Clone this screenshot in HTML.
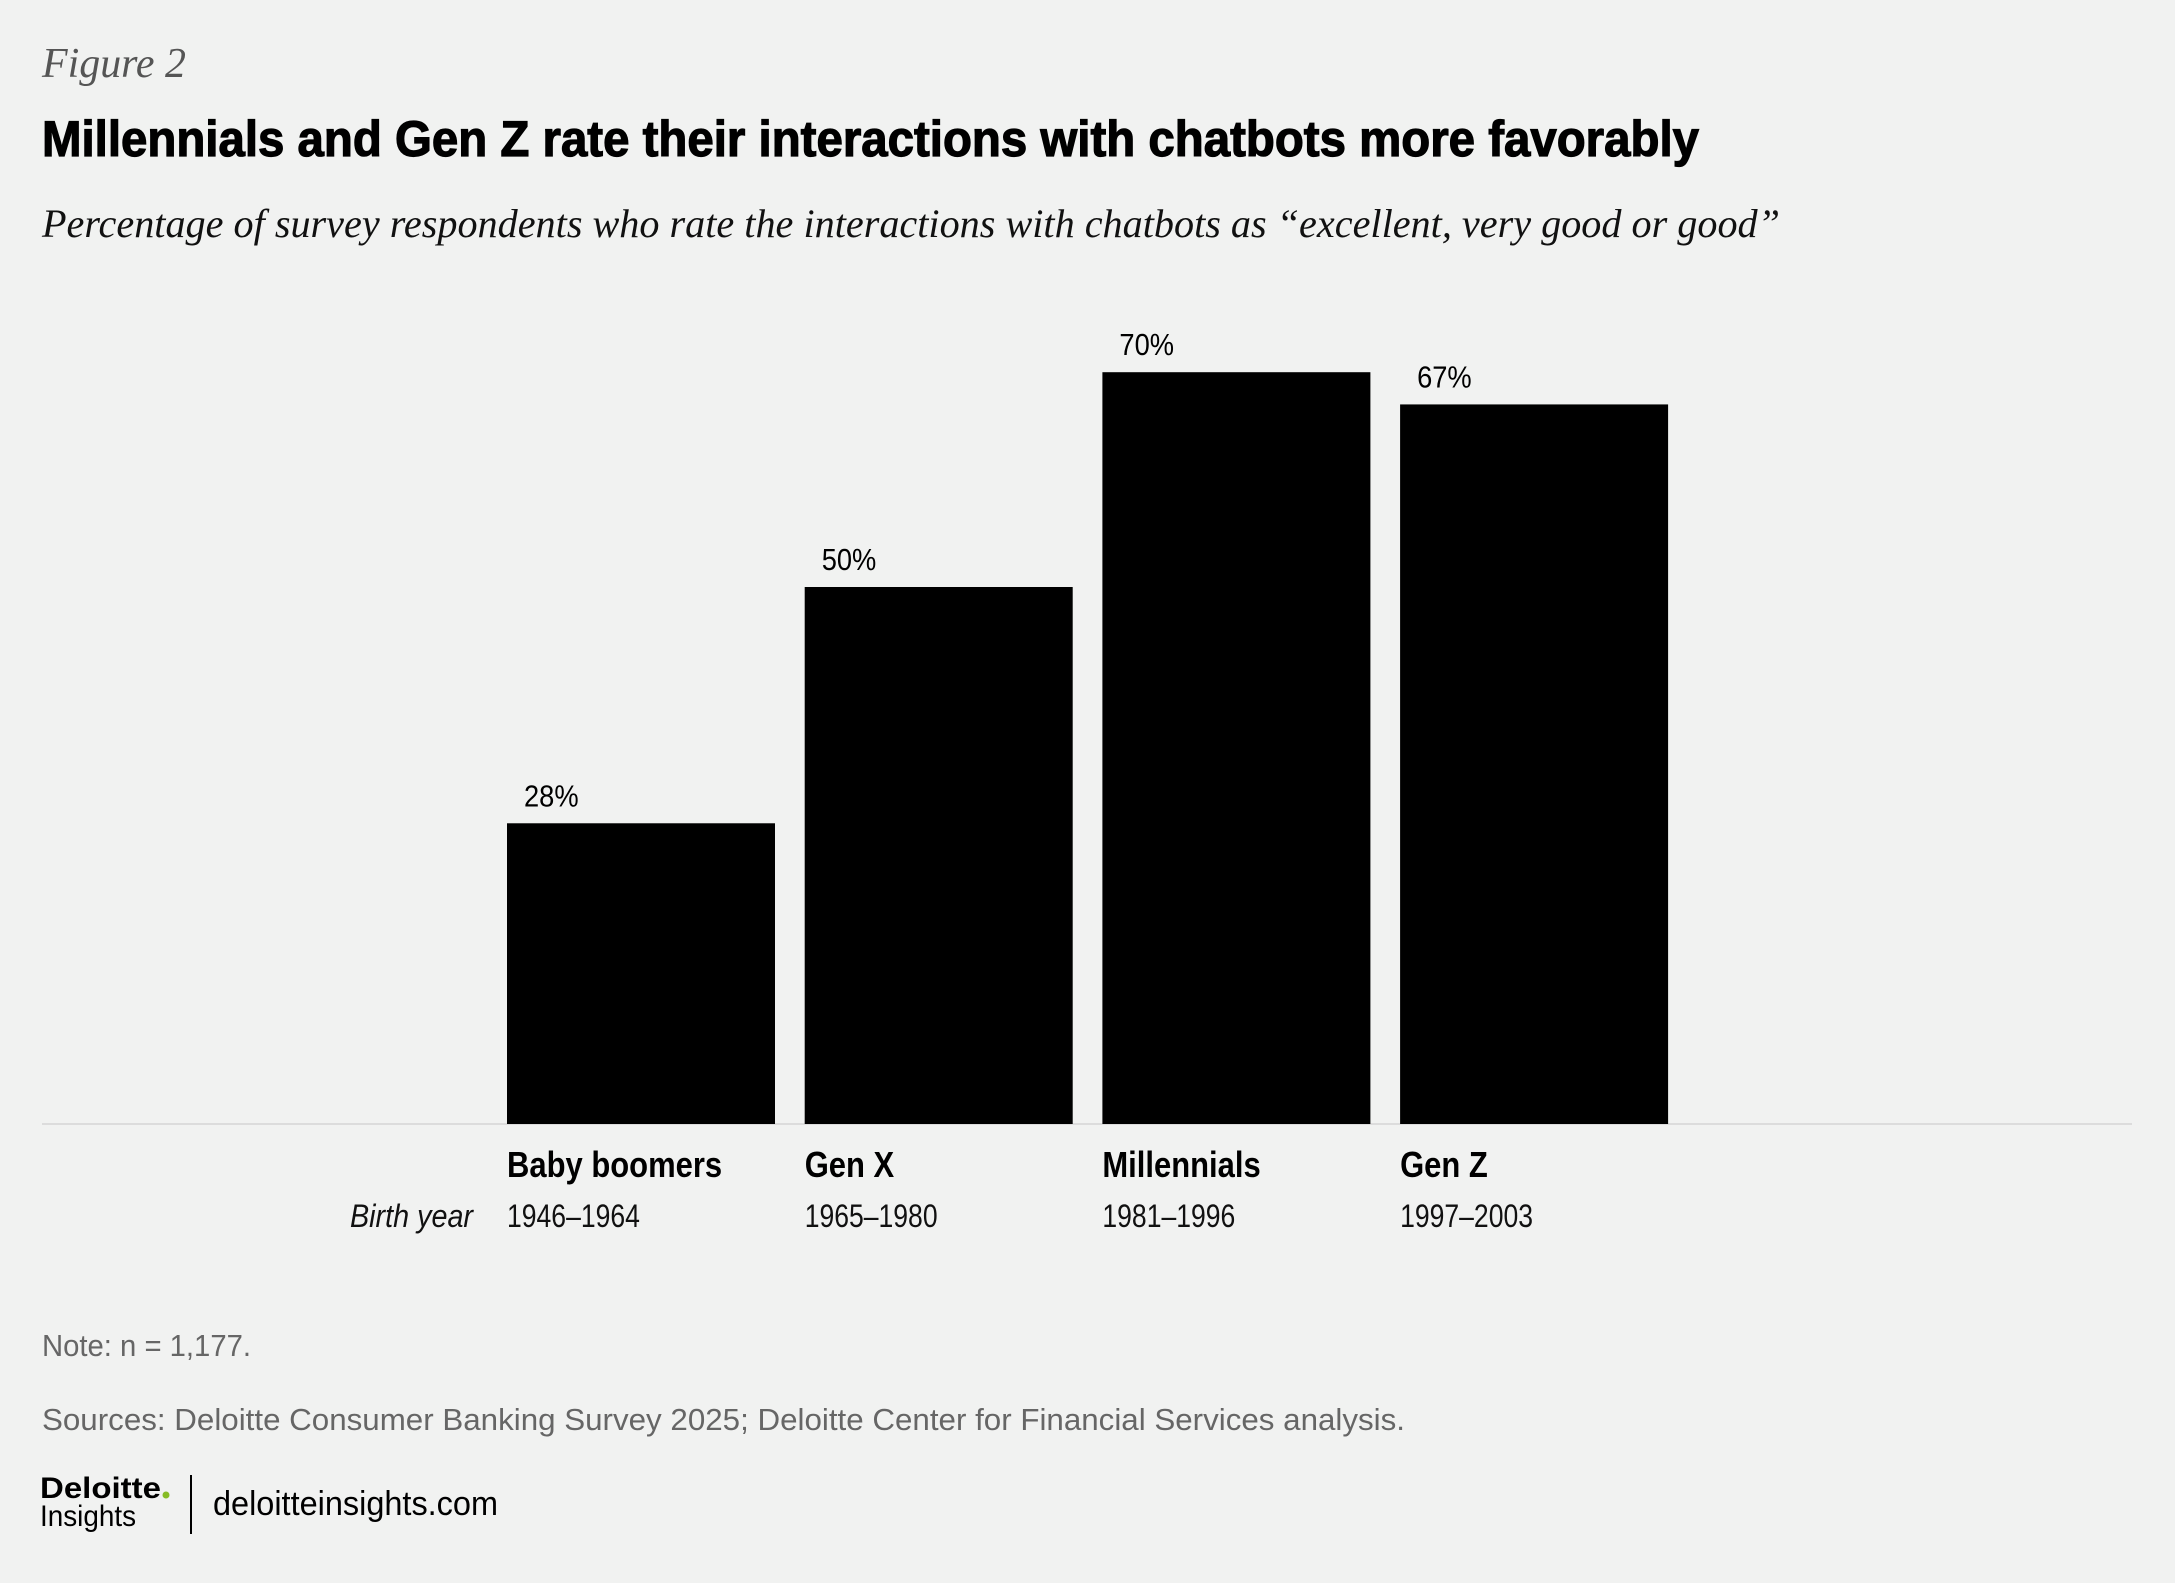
<!DOCTYPE html>
<html><head><meta charset="utf-8"><style>
html,body{margin:0;padding:0;background:#f1f2f1;}
svg{display:block;}
</style></head><body>
<svg id="chart" width="2175" height="1583" viewBox="0 0 2175 1583" xmlns="http://www.w3.org/2000/svg">
<rect x="0" y="0" width="2175" height="1583" fill="#f1f2f1"/>
<text x="42" y="77" font-family="Liberation Serif, serif" font-style="italic" font-size="42" fill="#555" textLength="144" lengthAdjust="spacingAndGlyphs">Figure 2</text>
<text x="42" y="156" font-family="Liberation Sans, sans-serif" font-weight="bold" font-size="50" fill="#000" stroke="#000" stroke-width="1.2" textLength="1657" lengthAdjust="spacingAndGlyphs">Millennials and Gen Z rate their interactions with chatbots more favorably</text>
<text x="42" y="237" font-family="Liberation Serif, serif" font-style="italic" font-size="40" fill="#111" textLength="1738" lengthAdjust="spacingAndGlyphs">Percentage of survey respondents who rate the interactions with chatbots as “excellent, very good or good”</text>
<line x1="42" y1="1124" x2="2132" y2="1124" stroke="#dcdcdc" stroke-width="2"/>
<g id="bars"></g>
<text x="473" y="1227" text-anchor="end" font-family="Liberation Sans, sans-serif" font-style="italic" font-size="32" fill="#111" textLength="123" lengthAdjust="spacingAndGlyphs">Birth year</text>
<text x="42" y="1356" font-family="Liberation Sans, sans-serif" font-size="31" fill="#666" textLength="209" lengthAdjust="spacingAndGlyphs">Note: n = 1,177.</text>
<text x="42" y="1430" font-family="Liberation Sans, sans-serif" font-size="31" fill="#666" textLength="1363" lengthAdjust="spacingAndGlyphs">Sources: Deloitte Consumer Banking Survey 2025; Deloitte Center for Financial Services analysis.</text>
<text x="40" y="1498" font-family="Liberation Sans, sans-serif" font-weight="bold" font-size="30" fill="#000" textLength="121" lengthAdjust="spacingAndGlyphs">Deloitte</text>
<circle cx="166" cy="1495" r="3.5" fill="#86bc25"/>
<text x="40" y="1526" font-family="Liberation Sans, sans-serif" font-size="30" fill="#000" textLength="96" lengthAdjust="spacingAndGlyphs">Insights</text>
<line x1="191" y1="1475" x2="191" y2="1534" stroke="#000" stroke-width="2"/>
<text x="213" y="1515" font-family="Liberation Sans, sans-serif" font-size="34" fill="#000" textLength="285" lengthAdjust="spacingAndGlyphs">deloitteinsights.com</text>
</svg>
<script>
const categories = ["Baby boomers", "Gen X", "Millennials", "Gen Z"];
const birthYears = ["1946–1964", "1965–1980", "1981–1996", "1997–2003"];
const values = [28, 50, 70, 67];
const valueLabels = ["28%", "50%", "70%", "67%"];

const NS = "http://www.w3.org/2000/svg";
const g = document.getElementById("bars");
const baseY = 1124, pxPerPct = 10.74;
const x0 = 507, step = 297.7, barW = 268;
function xScale(i){ return x0 + i*step; }
function yScale(v){ return baseY - v*pxPerPct; }
function mk(tag, attrs, txt){
  const e = document.createElementNS(NS, tag);
  for (const k in attrs) e.setAttribute(k, attrs[k]);
  if (txt !== undefined) e.textContent = txt;
  g.appendChild(e);
  return e;
}
function condense(el, f){
  const w = el.getComputedTextLength();
  el.setAttribute("textLength", (w*f).toFixed(1));
  el.setAttribute("lengthAdjust", "spacingAndGlyphs");
}
categories.forEach((c, i) => {
  const x = xScale(i), y = yScale(values[i]);
  const r = mk("rect", {x: x, y: y, width: barW, height: baseY - y, fill: "#000"});
  
  
  const vl = mk("text", {x: x + 17, y: y - 17, "font-family": "Liberation Sans, sans-serif", "font-size": "31", fill: "#000"}, valueLabels[i]);
  
  
  condense(vl, 0.88);
  const cl = mk("text", {x: x, y: 1177, "font-family": "Liberation Sans, sans-serif", "font-weight": "bold", "font-size": "36", fill: "#000"}, c);
  
  
  condense(cl, 0.86);
  const yl = mk("text", {x: x, y: 1227, "font-family": "Liberation Sans, sans-serif", "font-size": "32", fill: "#111"}, birthYears[i]);
  
  
  condense(yl, 0.83);
});
</script>
</body></html>
